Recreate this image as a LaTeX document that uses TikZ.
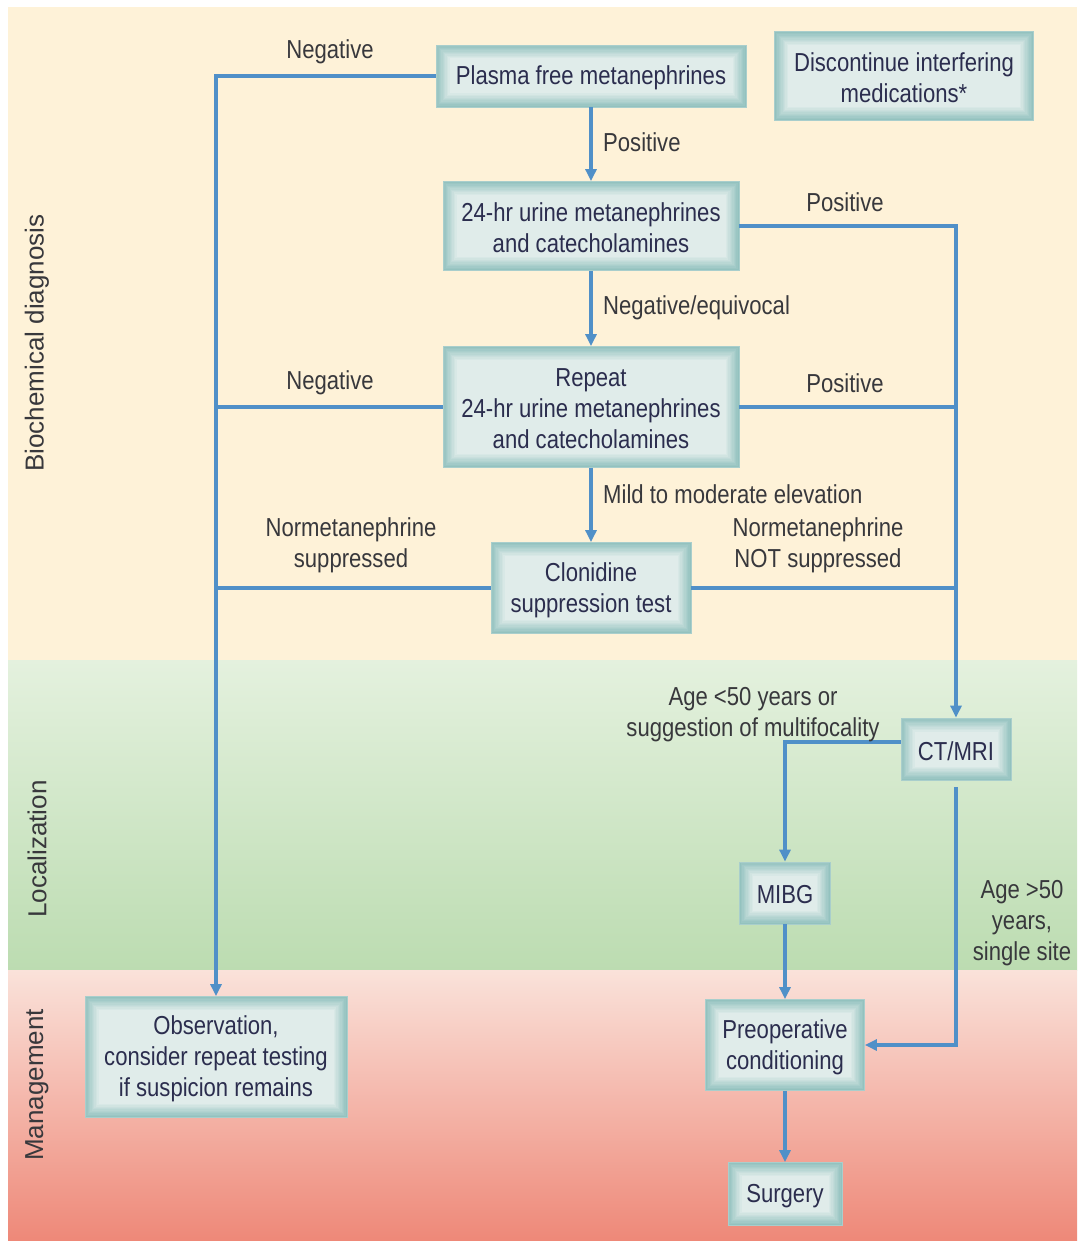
\documentclass[tikz,border=0pt]{standalone}
\usepackage{fontspec}
\setmainfont{Liberation Sans}[FakeStretch=0.85]
\newfontfamily\sidefont{Liberation Sans}
\usetikzlibrary{arrows.meta,calc}
\definecolor{bgyellow}{HTML}{FEF2D8}
\definecolor{greentop}{HTML}{E4F1DE}
\definecolor{greenbot}{HTML}{BCDCB1}
\definecolor{redtop}{HTML}{FAE2DA}
\definecolor{redbot}{HTML}{EE8878}
\definecolor{boxedge}{HTML}{93C2BF}
\definecolor{boxin}{HTML}{E0ECEA}
\definecolor{boxtext}{HTML}{2B2D4E}
\definecolor{labtext}{HTML}{38383C}
\definecolor{linecol}{HTML}{5090C8}
\tikzset{
  fbox/.style={draw=boxedge!80!white, line width=0.8pt, fill=boxedge, inner sep=0pt, align=center,
    text=boxtext, font=\fontsize{26}{31}\selectfont,
    path picture={
      \foreach \i in {1,...,10}{
        \pgfmathtruncatemacro\pp{100-10*\i}
        \fill[boxedge!\pp!boxin]
          ($(path picture bounding box.south west)+(\i*1.35pt,\i*1.35pt)$) rectangle
          ($(path picture bounding box.north east)-(\i*1.35pt,\i*1.35pt)$);
      }
      \node[align=center, text=boxtext, font=\fontsize{26}{31}\selectfont] at ([yshift=-2pt]path picture bounding box.center) {\boxlabel};
    }},
  lab/.style={align=center, text=labtext, font=\fontsize{26}{31}\selectfont, inner sep=0pt},
  side/.style={rotate=90, text=labtext, font=\sidefont\fontsize{26}{30}\selectfont, inner sep=0pt},
  conn/.style={draw=linecol, line width=3.5pt},
  arr/.style={conn, -{Triangle[length=12pt,width=11pt]}}
}
\newcommand\boxlabel{}
\newcommand\mkbox[5]{% name, x, y, w, h
  \node[fbox, minimum width=#4pt, minimum height=#5pt] (#1) at (#2,#3) {};}
\begin{document}
\begin{tikzpicture}[x=1pt,y=-1pt]
\useasboundingbox (0,0) rectangle (1077,1241);
\fill[white] (0,0) rectangle (1077,1241);
\fill[bgyellow] (8,7) rectangle (1077,660);
\shade[top color=greentop, bottom color=greenbot] (8,660) rectangle (1077,970);
\shade[top color=redtop, bottom color=redbot] (8,970) rectangle (1077,1241);

\node[side] (s1) at (37,343) {Biochemical diagnosis};
\node[side] (s2) at (37,849) {Localization};
\node[side] (s3) at (37,1085) {Management};

\renewcommand\boxlabel{Plasma free metanephrines}\mkbox{plasma}{591}{76}{310}{62}
\renewcommand\boxlabel{Discontinue interfering\\medications*}\mkbox{disc}{904}{76}{259}{89}
\renewcommand\boxlabel{24-hr urine metanephrines\\and catecholamines}\mkbox{urine}{591}{226}{296}{89}
\renewcommand\boxlabel{Repeat\\24-hr urine metanephrines\\and catecholamines}\mkbox{repeat}{591}{407}{296}{121}
\renewcommand\boxlabel{Clonidine\\suppression test}\mkbox{clon}{591}{588}{200}{91}
\renewcommand\boxlabel{CT/MRI}\mkbox{ct}{956}{749}{110}{62}
\renewcommand\boxlabel{MIBG}\mkbox{mibg}{785}{893}{91}{62}
\renewcommand\boxlabel{Preoperative\\conditioning}\mkbox{preop}{785}{1045}{159}{91}
\renewcommand\boxlabel{Surgery}\mkbox{surg}{785}{1194}{114}{63}
\renewcommand\boxlabel{Observation,\\consider repeat testing\\if suspicion remains}\mkbox{obs}{216}{1057}{262}{121}

\coordinate (ctout) at ($(ct.south)+(0,7)$);

\draw[arr] (plasma.west) -| (obs.north);
\draw[arr] (plasma.south) -- (urine.north);
\draw[arr] (urine.east) -| (ct.north);
\draw[arr] (urine.south) -- (repeat.north);
\draw[conn] (repeat.west) -- (repeat.west -| obs.north);
\draw[conn] (repeat.east) -- (repeat.east -| ct.north);
\draw[arr] (repeat.south) -- (clon.north);
\draw[conn] (clon.west) -- (clon.west -| obs.north);
\draw[conn] (clon.east) -- (clon.east -| ct.north);
\draw[arr] ([yshift=7pt]ct.west) -| (mibg.north);
\draw[arr] (ctout) |- (preop.east);
\draw[arr] (mibg.south) -- (preop.north);
\draw[arr] (preop.south) -- (surg.north);

\node[lab] (l1) at (330,52) {Negative};
\node[lab, anchor=west] (l2) at (603,142) {Positive};
\node[lab] (l3) at (845,202) {Positive};
\node[lab, anchor=west] (l4) at (603,308) {Negative/equivocal};
\node[lab] (l5) at (330,383) {Negative};
\node[lab] (l6) at (845,383) {Positive};
\node[lab, anchor=west] (l7) at (603,494) {Mild to moderate elevation};
\node[lab] (l8) at (351,545) {Normetanephrine\\suppressed};
\node[lab] (l9) at (818,545) {Normetanephrine\\NOT suppressed};
\node[lab] (l10) at (753,715) {Age <50 years or\\suggestion of multifocality};
\node[lab] (l11) at (1022,923) {Age >50\\years,\\single site};
\end{tikzpicture}
\end{document}
